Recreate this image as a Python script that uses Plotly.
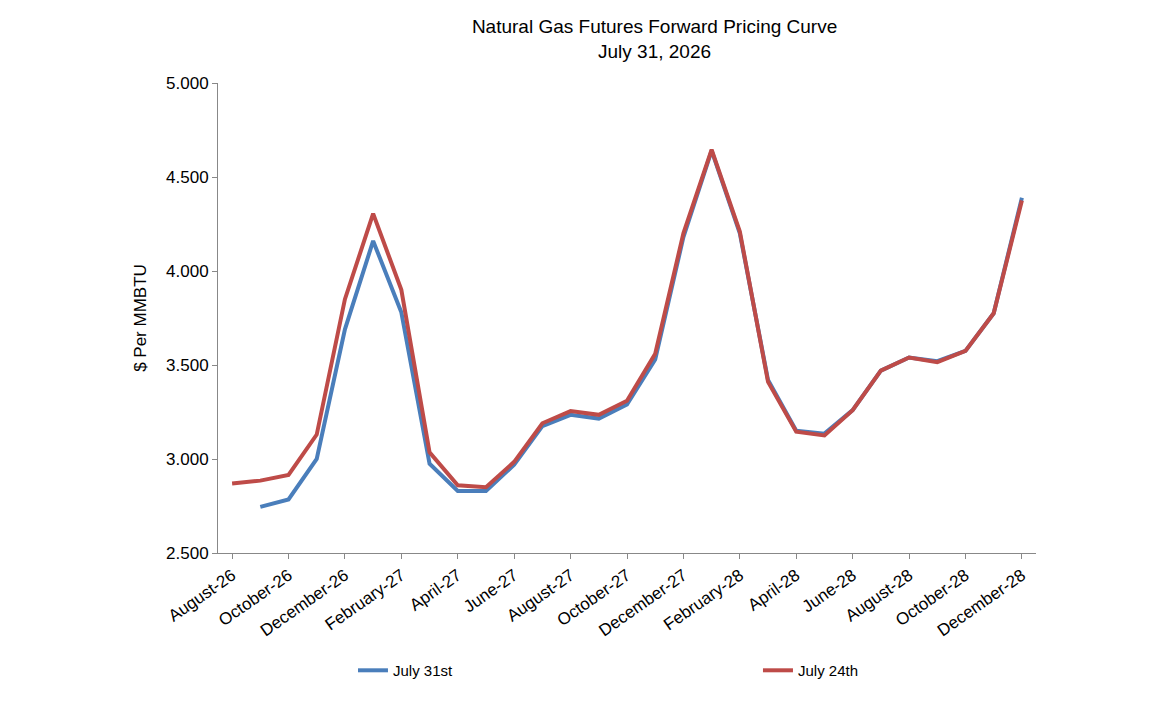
import plotly.graph_objects as go

names = ["January","February","March","April","May","June","July","August","September","October","November","December"]
cats = []
mm, yy = 8, 26
for i in range(29):
    cats.append(f"{names[mm-1]}-{yy}")
    mm += 1
    if mm > 12:
        mm = 1; yy += 1

july31 = [None, 2.745, 2.785, 3.0, 3.69, 4.16, 3.78, 2.975, 2.83, 2.83, 2.97, 3.175, 3.235, 3.215, 3.29, 3.53,
          4.18, 4.64, 4.2, 3.42, 3.15, 3.135, 3.26, 3.47, 3.54, 3.52, 3.575, 3.775, 4.39]
july24 = [2.87, 2.885, 2.915, 3.13, 3.85, 4.305, 3.9, 3.035, 2.86, 2.85, 2.985, 3.19, 3.255, 3.235, 3.31, 3.56,
          4.2, 4.645, 4.21, 3.41, 3.145, 3.125, 3.26, 3.47, 3.54, 3.515, 3.575, 3.775, 4.375]

fig = go.Figure()
fig.add_trace(go.Scatter(x=cats, y=july31, mode="lines", name="July 31st", line=dict(color="#4a7ebb", width=4)))
fig.add_trace(go.Scatter(x=cats, y=july24, mode="lines", name="July 24th", line=dict(color="#be4b48", width=4)))

fig.update_layout(
    width=1165, height=711, paper_bgcolor="white", plot_bgcolor="white",
    margin=dict(l=210, r=137, t=75, b=166, autoexpand=False),
    font=dict(family="Liberation Sans, Arial", color="black"),
    title=dict(text="Natural Gas Futures Forward Pricing Curve<br>July 31, 2026", x=0.555, xanchor="center",
               y=0.965, yanchor="top", font=dict(size=19)),
    showlegend=True,
    legend=dict(orientation="h", x=0.165, xanchor="left", y=-0.215, yanchor="top",
                entrywidth=360, entrywidthmode="pixels", font=dict(size=15)),
)
fig.update_xaxes(type="category", tickvals=cats[::2], tickangle=-35, tickfont=dict(size=17),
                 showline=True, linecolor="#888", showgrid=False, range=[-0.5, 28.5], ticks="outside", ticklen=5, tickcolor="#888")
fig.update_yaxes(range=[2.5, 5.0], dtick=0.5, tickformat=".3f", tickfont=dict(size=17),
                 title=dict(text="$ Per MMBTU", font=dict(size=17)),
                 showline=True, linecolor="#888", showgrid=False, zeroline=False, ticks="outside", ticklen=5, tickcolor="#888")
fig.write_html("out.html")
